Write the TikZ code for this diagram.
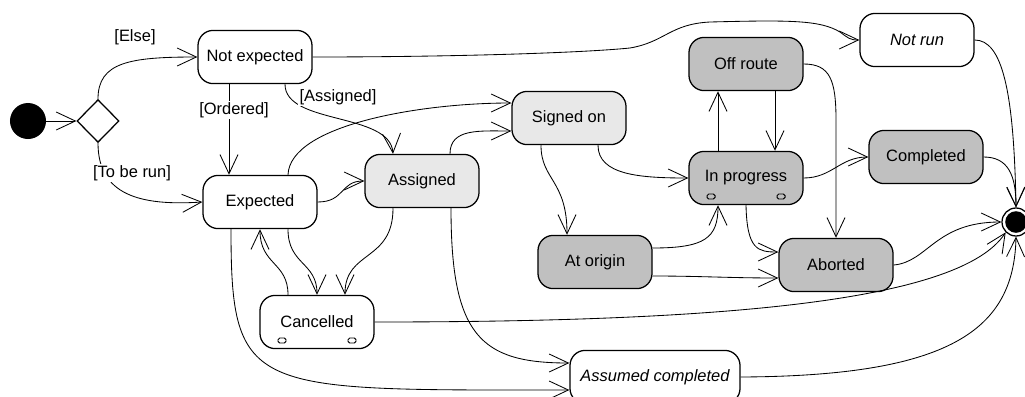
\documentclass[tikz,border=0pt]{standalone}
\usepackage{fontspec}
\setmainfont{Liberation Sans}
\usetikzlibrary{arrows.meta,shapes.geometric,calc}
\definecolor{lightfill}{HTML}{E8E8E8}
\definecolor{darkfill}{HTML}{C0C0C0}
\tikzset{
  state/.style={draw, fill=white, rounded corners=0.38cm, line width=0.9pt,
    minimum width=2.85cm, minimum height=1.33cm, inner sep=0pt},
  lightstate/.style={state, fill=lightfill},
  darkstate/.style={state, fill=darkfill},
  lbl/.style={fill=white, inner sep=1pt},
  pill/.style={line width=0.7pt, rounded corners=1.2pt}
}

\begin{document}
\begin{tikzpicture}[x=0.025cm, y=-0.025cm, line width=0.6pt,
  >={Straight Barb[length=0.48cm,width=0.45cm]},
  font=\fontsize{11.7}{14}\selectfont]
\useasboundingbox (0,0) rectangle (1025,396);
\node[circle, fill=black, minimum size=0.9cm, inner sep=0] (start) at (28,121) {};
\node[diamond, draw, line width=0.9pt, minimum width=1.05cm, minimum height=1.07cm, inner sep=0] (choice) at (98,121) {};
\node[state] (notexp) at (255,57) {Not expected};
\node[state] (expected) at (260,202) {Expected};
\node[state] (cancelled) at (317,322) {Cancelled};
\node[lightstate] (assigned) at (422,181) {Assigned};
\node[lightstate] (signedon) at (569,118) {Signed on};
\node[darkstate] (atorigin) at (595,262) {At origin};
\node[darkstate] (offroute) at (746,64) {Off route};
\node[darkstate] (inprog) at (746,178) {In progress};
\node[state] (notrun) at (917,40) {\itshape Not run};
\node[darkstate] (completed) at (926,157) {Completed};
\node[darkstate] (aborted) at (836,265) {Aborted};
\node[state, minimum width=4.25cm] (assumed) at (655,377) {\itshape Assumed completed};
\node[circle, draw, fill=white, line width=0.9pt, minimum size=0.7cm, inner sep=0] (stop) at (1016,222) {};
\fill (stop.center) circle (0.27cm);
\foreach \n in {cancelled,inprog}
  \foreach \s in {-35,35}
    \draw[pill] ($(\n)+(\s-4,16)$) rectangle ($(\n)+(\s+4,21)$);
\draw[->] (start) -- (choice.west);
\draw[->] (choice.north) .. controls (98,62) and (130,57) .. (notexp.west);
\node[lbl] (else) at (135,37) {[Else]};
\draw[->] (choice.south) .. controls (98,195) and (140,206) .. (expected.west);
\node[lbl] (toberun) at (132,173) {[To be run]};
\draw[->] ($(notexp.south)+(-26,0)$) -- ($(expected.north)+(-31,0)$);
\node[lbl] (ordered) at (234,110) {[Ordered]};
\draw[->] ($(notexp.south)+(30,0)$) .. controls (285,125) and (390,112) .. ($(assigned.north)+(-29,0)$);
\node[lbl] (assignedlbl) at (338,97) {[Assigned]};
\draw[->] ($(expected.north)+(28,0)$) .. controls (290,125) and (420,103) .. ($(signedon.west)+(0,-15)$);
\draw[->] ($(assigned.north)+(28,0)$) .. controls (450,128) and (480,131) .. ($(signedon.west)+(0,13)$);
\draw[->] (expected.east) .. controls (345,202) and (340,181) .. (assigned.west);
\draw[->] ($(expected.south)+(28,0)$) .. controls (288,265) and (317,262) .. (cancelled.north);
\draw[->] ($(cancelled.north)+(-29,0)$) .. controls (288,262) and (260,265) .. (expected.south);
\draw[->] ($(assigned.south)+(-29,0)$) .. controls (393,262) and (345,250) .. ($(cancelled.north)+(28,0)$);
\draw[->] ($(expected.south)+(-29,0)$) .. controls (231,395) and (250,390) .. ($(assumed.west)+(0,13)$);
\draw[->] ($(assigned.south)+(29,0)$) .. controls (451,335) and (480,363) .. ($(assumed.west)+(0,-14)$);
\draw[->] (cancelled.east) .. controls (720,322) and (960,302) .. (stop.south west);
\draw[->] (notexp.east) .. controls (450,57) and (580,53) .. (630,48) .. controls (665,42) and (670,24) .. (710,22) .. controls (790,20) and (820,20) .. (840,32) .. controls (848,38) and (850,40) .. (notrun.west);
\draw[->] (notrun.east) .. controls (1002,40) and (1014,90) .. (stop.north);
\draw[->] (completed.east) .. controls (1008,157) and (1016,175) .. (stop.north);
\draw[->] (offroute.east) .. controls (830,64) and (836,80) .. (836,120) -- (aborted.north);
\draw[->] ($(offroute.south)+(29,0)$) -- ($(inprog.north)+(29,0)$);
\draw[->] ($(inprog.north)+(-28,0)$) -- ($(offroute.south)+(-28,0)$);
\draw[->] ($(signedon.south)+(29,0)$) .. controls (598,175) and (640,178) .. (inprog.west);
\draw[->] ($(signedon.south)+(-28,0)$) .. controls (541,180) and (567,180) .. ($(atorigin.north)+(-28,0)$);
\draw[->] ($(atorigin.east)+(0,-14)$) .. controls (705,248) and (718,238) .. ($(inprog.south)+(-28,0)$);
\draw[->] ($(atorigin.east)+(0,14)$) .. controls (700,276) and (730,278) .. ($(aborted.west)+(0,13)$);
\draw[->] (inprog.south) .. controls (747,250) and (758,252) .. ($(aborted.west)+(0,-13)$);
\draw[->] (inprog.east) .. controls (832,178) and (840,157) .. (completed.west);
\draw[->] (aborted.east) .. controls (928,262) and (935,222) .. (stop.west);
\draw[->] (assumed.east) .. controls (950,376) and (1014,330) .. (stop.south);
\end{tikzpicture}
\end{document}
